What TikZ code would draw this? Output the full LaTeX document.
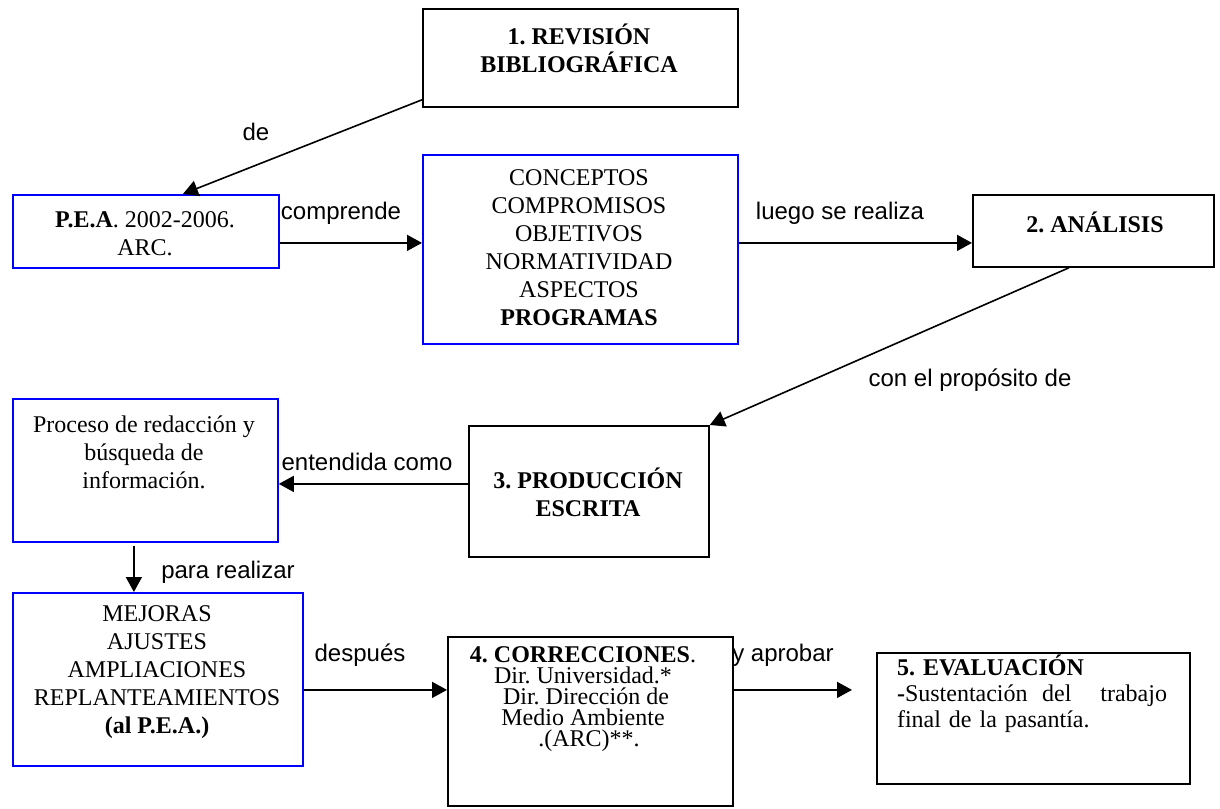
\documentclass[tikz,border=0pt]{standalone}
\usepackage{fontspec}
\setmainfont{Liberation Serif}
\setsansfont{Liberation Sans}
\usetikzlibrary{arrows.meta,calc}
\tikzset{>={Triangle[length=7.5pt,width=8pt]}}
\tikzset{
  box/.style={draw,line width=.9pt,inner sep=0pt,anchor=north west},
  bluebox/.style={box,draw=blue},
  txt/.style={align=center,inner sep=0pt,font=\fontsize{12}{14}\selectfont},
  lbl/.style={inner sep=0pt,font=\sffamily\fontsize{12}{14}\selectfont},
  arr/.style={->,line width=.8pt}
}
\newcommand*{\tb}[1]{\textbf{#1}}
\frenchspacing

\begin{document}
\begin{tikzpicture}[x=.5pt,y=-.5pt]
\useasboundingbox (0,0) rectangle (1220,808);
% One unit is one pixel of the sheet

% Boxes of the first row
\node[box,minimum width=157.5pt,minimum height=49pt] (rev) at (422,8) {};
\node[bluebox,minimum width=133pt,minimum height=36.5pt] (pea) at (12,194) {};
\node[bluebox,minimum width=157.5pt,minimum height=94.5pt] (conc) at (422,154) {};
\node[box,minimum width=120.5pt,minimum height=36pt] (anal) at (972,194) {};

% Boxes of the middle row
\node[bluebox,minimum width=132.5pt,minimum height=71.5pt] (proc) at (12,398) {};
\node[box,minimum width=120pt,minimum height=65.5pt] (prod) at (468,425) {};

% Boxes of the last row
\node[bluebox,minimum width=145pt,minimum height=86.5pt] (mej) at (12,592) {};
\node[box,minimum width=142.5pt,minimum height=84.5pt] (corr) at (447,636) {};
\node[box,minimum width=156.5pt,minimum height=65.5pt] (eval) at (876,652) {};

% Texts in the boxes
\node[txt] (trev) at (579,48) {\tb{1. REVISIÓN}\\\tb{BIBLIOGRÁFICA}};
\node[txt] (tpea) at (145,234) {\tb{P.E.A}. 2002-2006.\\ARC.};
\node[txt] (tconc) at (579,248)
  {CONCEPTOS\\COMPROMISOS\\OBJETIVOS\\NORMATIVIDAD\\ASPECTOS\\\tb{PROGRAMAS}};
\node[txt] (tanal) at (1095,222) {\tb{2. ANÁLISIS}};
\node[txt] (tproc) at (144,452) {Proceso de redacción y\\búsqueda de\\información.};
\node[txt] (tprod) at (588,492) {\tb{3. PRODUCCIÓN}\\\tb{ESCRITA}};
\node[txt] (tmej) at (157,672)
  {MEJORAS\\AJUSTES\\AMPLIACIONES\\REPLANTEAMIENTOS\\\tb{(al P.E.A.)}};
\node[txt,font=\fontsize{12}{10.5}\selectfont] (tcorr) at (583,699)
  {\tb{4. CORRECCIONES}.\\Dir. Universidad.*\\\ Dir. Dirección de\\Medio Ambiente\\\ \ .(ARC)**.};
\node[txt,align=left,text width=135pt,font=\fontsize{12}{13}\selectfont] (teval) at (1032,694)
  {\tb{5. EVALUACIÓN}\\\tb{-}Sustentación\hspace{\fill}del\hspace{\fill}\hspace{\fill}trabajo\\final de la pasantía.};

% Connectors
\draw[arr] ([yshift=4pt]rev.south west) -- ([xshift=18.5pt]pea.north);
\draw[arr] ([yshift=-5.75pt]pea.east) coordinate (c1) -- (c1 -| conc.west);
\draw[arr] (conc.east |- c1) -- (anal.west |- c1);
\draw[arr] ([xshift=-12.25pt]anal.south) -- (prod.north east);
\draw[arr] ([yshift=3.75pt]prod.west) coordinate (c2) -- (c2 -| proc.east);
\draw[arr] ([xshift=-5.75pt,yshift=-1.5pt]proc.south) coordinate (c3) -- (c3 |- mej.north);
\draw[arr] ([yshift=-5.25pt]mej.east) coordinate (c4) -- (c4 -| corr.west);
\coordinate (e5) at ([xshift=-12pt]eval.west |- c4);
\draw[arr] (corr.east |- c4) -- (e5);

% Labels on the connectors
\node[lbl] (lde) at (256,132) {de};
\node[lbl] (lcomp) at (341,213) {comprende};
\node[lbl] (lluego) at (840,213) {luego se realiza};
\node[lbl] (lprop) at (970,380) {con el propósito de};
\node[lbl] (lent) at (367,462) {entendida como};
\node[lbl] (lpara) at (228,572) {para realizar};
\node[lbl] (ldesp) at (360,655) {después};
\node[lbl] (laprob) at (783,655) {y aprobar};
\end{tikzpicture}
\end{document}
